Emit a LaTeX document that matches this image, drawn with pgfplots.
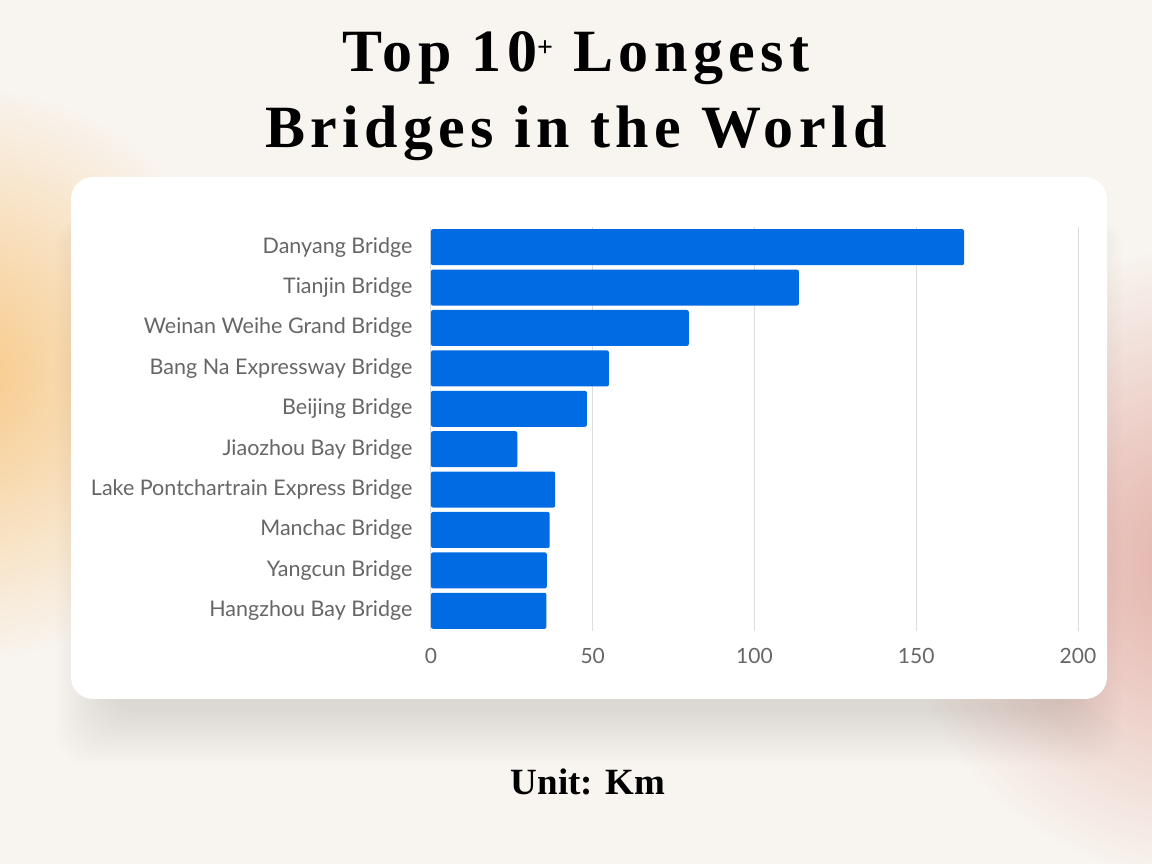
\documentclass[border=0pt]{standalone}
\usepackage{pgfplots}
\pgfplotsset{compat=1.18}
\usepackage{fontspec}
\setmainfont{Lato}
\newfontfamily\titlefont[LetterSpace=9]{Liberation Serif}
\newfontfamily\unitfont{Liberation Serif}
\definecolor{bgcream}{HTML}{F8F4EF}
\definecolor{glowor}{HTML}{F8C987}
\definecolor{glowpk}{HTML}{E2ADA4}
\definecolor{barblue}{HTML}{006BE3}
\definecolor{labgray}{HTML}{666666}
\definecolor{gridgray}{HTML}{DDDDDD}

% lengths in km
\pgfplotstableread{
idx length
0 164.8
1 113.7
2 79.7
3 55.0
4 48.2
5 26.7
6 38.4
7 36.7
8 35.8
9 35.7
}\bridges

\begin{document}
\begin{tikzpicture}
\begin{scope}[x=1pt,y=1pt]
  \useasboundingbox (0,0) rectangle (1152,864);
  \clip (0,0) rectangle (1152,864);
  \fill[bgcream] (0,0) rectangle (1152,864);
  % soft glows
  \shade[inner color=glowor, outer color=bgcream] (-40,490) circle (290);
  \shade[inner color=glowpk, outer color=bgcream] (1210,300) circle (320);
  % panel shadow
  \foreach \d in {2,4,...,56}
    \fill[black, opacity=0.0045, rounded corners=30] (71+40-\d,165-\d-10) rectangle (1107-40+\d,687-40);
  \fill[white, rounded corners=22] (71,165) rectangle (1107,687);
  % titles
  \node[anchor=base, font=\titlefont\bfseries\fontsize{60}{60}\selectfont] at (576,792) {Top 10\raisebox{0.25em}{\fontsize{28}{28}\selectfont+} Longest};
  \node[anchor=base, font=\titlefont\bfseries\fontsize{60}{60}\selectfont] at (576,716) {Bridges in the World};
  \node[anchor=base, font=\unitfont\bfseries\fontsize{37}{37}\selectfont] at (588,69) {Unit: Km};
\end{scope}
\begin{axis}[
    at={(431pt,233pt)}, anchor=south west,
    scale only axis,
    width=647pt, height=404pt,
    xbar,
    bar width=36pt,
    y dir=reverse,
    xmin=0, xmax=200,
    ymin=-0.5, ymax=9.5,
    xtick={0,50,100,150,200},
    ytick={0,...,9},
    yticklabels={Danyang Bridge, Tianjin Bridge, Weinan Weihe Grand Bridge, Bang Na Expressway Bridge, Beijing Bridge, Jiaozhou Bay Bridge, Lake Pontchartrain Express Bridge, Manchac Bridge, Yangcun Bridge, Hangzhou Bay Bridge},
    xmajorgrids=true,
    grid style={gridgray, line width=1pt},
    axis line style={draw=none},
    major tick length=0pt,
    /pgf/number format/assume math mode=true,
    y tick label style={font=\fontsize{21.5}{24}\selectfont, text=labgray, anchor=east, xshift=-15pt},
    x tick label style={font=\fontsize{21}{24}\selectfont, text=labgray, yshift=-14pt},
]
\addplot[fill=barblue, draw=none, rounded corners=2pt] table[x=length, y=idx] {\bridges};
\end{axis}
\end{tikzpicture}
\end{document}
